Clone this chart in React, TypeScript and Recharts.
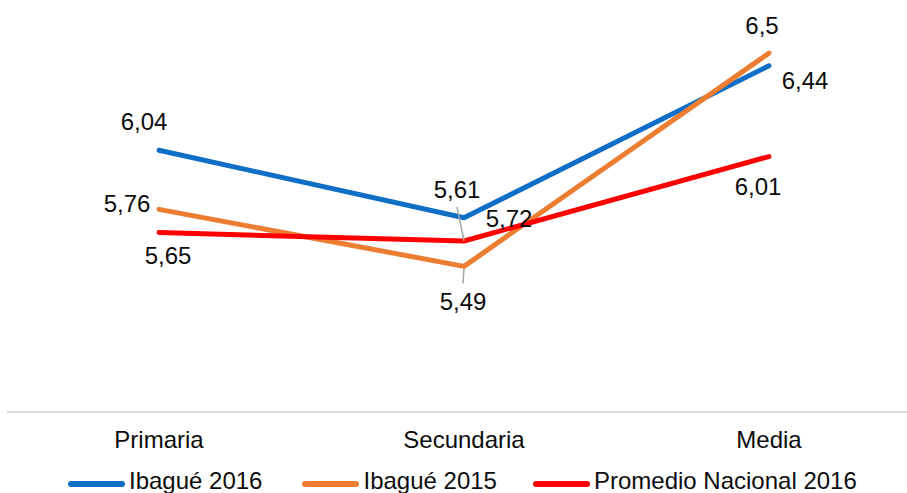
import React from 'react';
import { LineChart, Line, XAxis, YAxis, Legend, LabelList } from 'recharts';

const categories = ['Primaria', 'Secundaria', 'Media'];
const ibague2016 = [6.04, 5.72, 6.44];
const ibague2015 = [5.76, 5.49, 6.5];
const nacional2016 = [5.65, 5.61, 6.01];

const data = categories.map((name, i) => ({
  name,
  ibague2016: ibague2016[i],
  ibague2015: ibague2015[i],
  nacional2016: nacional2016[i],
}));

const FONT = '"Liberation Sans", Arial, sans-serif';

// label centre offsets from each point (the labels were dragged around by hand)
const series = [
  {
    key: 'ibague2016',
    name: 'Ibagué 2016',
    color: '#0F6FC6',
    offsets: [[-15, -29], [45, 1], [36, 15]],
    leaders: [null, null, null],
  },
  {
    key: 'ibague2015',
    name: 'Ibagué 2015',
    color: '#ED7D31',
    offsets: [[-32, -6], [-1, 35], [-7, -28]],
    leaders: [null, [0, 2, -1, 17], null],
  },
  {
    key: 'nacional2016',
    name: 'Promedio Nacional 2016',
    color: '#FF0000',
    offsets: [[9, 23], [-7, -51], [-11, 30]],
    leaders: [null, [0, 0, -7, -34], null],
  },
];

const makeLabel = (s: any) => (props: any) => {
  const { x, y, value, index } = props;
  const [dx, dy] = s.offsets[index];
  const leader = s.leaders[index];
  return (
    <g key={`${s.key}-lbl-${index}`}>
      {leader && (
        <line
          x1={x + leader[0]}
          y1={y + leader[1]}
          x2={x + leader[2]}
          y2={y + leader[3]}
          stroke="#A6A6A6"
          strokeWidth={1.5}
        />
      )}
      <text
        x={x + dx}
        y={y + dy}
        dy="0.35em"
        textAnchor="middle"
        fontSize={24}
        fontFamily={FONT}
        fill="#0d0d0d"
      >
        {String(value).replace('.', ',')}
      </text>
    </g>
  );
};

const renderLegend = () => (
  <div
    style={{
      display: 'flex',
      alignItems: 'center',
      height: 24,
      paddingLeft: 68,
      fontSize: 24,
      lineHeight: '24px',
      fontFamily: FONT,
      color: '#0d0d0d',
      whiteSpace: 'nowrap',
    }}
  >
    {series.map((s, i) => (
      <span key={s.key} style={{ display: 'flex', alignItems: 'center', marginRight: i === 1 ? 36 : 40 }}>
        <span
          style={{
            display: 'inline-block',
            width: 57,
            height: 6,
            borderRadius: 3,
            background: s.color,
            marginRight: 4,
            position: 'relative',
            top: 3,
          }}
        />
        {s.name}
      </span>
    ))}
  </div>
);

export default function App() {
  return (
    <div
      style={{
        position: 'absolute',
        left: 0,
        top: 0,
        width: 907,
        height: 493,
        overflow: 'hidden',
        background: '#fff',
        fontFamily: FONT,
      }}
    >
      <LineChart
        width={907}
        height={493}
        data={data}
        margin={{ top: 32, right: -15, bottom: 0, left: 7 }}
      >
        <XAxis
          dataKey="name"
          axisLine={{ stroke: '#D9D9D9', strokeWidth: 2 }}
          tickLine={false}
          tickSize={6}
          tickMargin={13}
          height={57}
          interval={0}
          padding={{ left: 152, right: 153 }}
          tick={{ fontSize: 24, fill: '#0d0d0d', fontFamily: FONT }}
        />
        <YAxis hide domain={[4.8, 6.6]} allowDataOverflow />
        <Legend
          verticalAlign="bottom"
          height={24}
          content={renderLegend}
          wrapperStyle={{ left: 0, bottom: 0, width: 907 }}
        />
        {series.map((s) => (
          <Line
            key={s.key}
            type="linear"
            dataKey={s.key}
            name={s.name}
            stroke={s.color}
            strokeWidth={5}
            strokeLinecap="round"
            strokeLinejoin="round"
            dot={false}
            activeDot={false}
            isAnimationActive={false}
          />
        ))}
        {/* labels on top of every line, as in the original */}
        {series.map((s) => (
          <Line
            key={`${s.key}-labels`}
            dataKey={s.key}
            stroke="none"
            dot={false}
            activeDot={false}
            legendType="none"
            isAnimationActive={false}
          >
            <LabelList dataKey={s.key} content={makeLabel(s)} />
          </Line>
        ))}
      </LineChart>
    </div>
  );
}
